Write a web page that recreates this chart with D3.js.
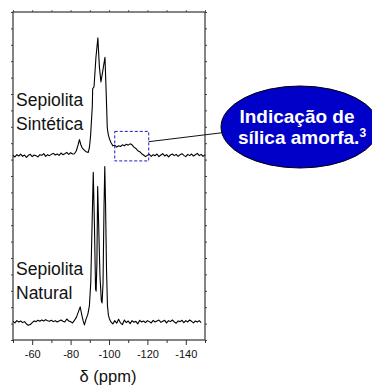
<!DOCTYPE html>
<html>
<head>
<meta charset="utf-8">
<script src="https://cdn.jsdelivr.net/npm/d3@7"></script>
<style>
body{margin:0;background:#fff;}
text{font-family:"Liberation Sans",Arial,sans-serif;}
</style>
</head>
<body>
<div id="chart"></div>
<script>
// chemical shift (ppm) and intensity (a.u.)
var ppmNatural = [-50,-51,-52,-53,-54,-55,-56,-57,-58,-59,-60,-61,-62,-63,-64,-65,-66,-67,-68,-69,-70,-71,-72,-73,-74,-75,-76,-77,-78,-79,-80,-81,-82,-83,-84,-85,-85.8,-86.5,-87.2,-88,-89,-89.8,-90.5,-91.2,-91.8,-92.4,-93,-93.3,-93.7,-94.1,-94.6,-95.3,-96,-96.4,-96.9,-97.4,-97.8,-98.2,-98.7,-99.2,-99.7,-100.2,-101,-102,-103,-104,-105,-106,-107,-108,-109,-110,-111,-112,-113,-114,-115,-116,-117,-118,-119,-120,-121,-122,-123,-124,-125,-126,-127,-128,-129,-130,-131,-132,-133,-134,-135,-136,-137,-138,-139,-140,-141,-142,-143,-144,-145,-146,-147,-148,-149,-150]
var natural = [0.2,-0.3,0.4,0.0,0.3,-0.2,0.1,-0.6,-1.0,-0.8,-0.2,0.3,0.1,0.5,0.2,0.6,0.3,0.7,0.4,0.2,0.5,0.1,0.4,0.0,0.3,0.6,0.2,0.0,0.9,0.3,0.1,-0.3,0.5,1.4,3.0,4.6,2.2,0.4,-0.9,0.8,2.4,5.0,12,30,45.6,30,10,9.4,18,41.3,30,14,6.5,5.8,12,35,47.4,36,16,5,2.0,1.0,0.0,-0.6,0.4,-0.4,0.8,-0.3,-0.8,0.6,-0.2,0.3,-0.5,0.4,-0.1,0.2,-0.6,0.5,0.0,0.3,-0.2,0.4,0.1,-0.3,0.5,0.0,0.3,0.6,-0.1,0.2,0.5,-0.3,0.4,0.1,0.6,0.0,-0.4,0.3,0.1,0.5,-0.2,0.4,0.0,0.6,0.2,-0.3,0.3,0.0,0.4,-0.2]

var ppmSintetica = [-50,-51,-52,-53,-54,-55,-56,-57,-58,-59,-60,-61,-62,-63,-64,-65,-66,-67,-68,-69,-70,-71,-72,-73,-74,-75,-76,-77,-78,-79,-80,-81,-82,-83,-84,-84.6,-85.3,-86,-87,-88,-89.2,-89.8,-90.4,-91,-91.3,-91.5,-92.2,-93.2,-94.2,-95,-95.8,-96.8,-97.9,-98.6,-99.1,-99.6,-100.2,-101,-102,-103,-104,-105,-106,-107,-108,-109,-110,-111,-112,-113,-114,-115,-116,-117,-118,-119,-120,-121,-122,-123,-124,-125,-126,-127,-128,-129,-130,-131,-132,-133,-134,-135,-136,-137,-138,-139,-140,-141,-142,-143,-144,-145,-146,-147,-148,-149,-150]
var sintetica = [0.1,-0.4,0.3,-0.1,0.5,-0.2,0.2,-0.5,0.1,0.4,-0.3,0.2,0.0,-0.4,0.3,0.1,0.6,-0.2,0.3,0.0,0.4,0.7,0.2,0.5,0.1,0.8,0.3,0.6,1.0,0.4,0.9,0.5,0.6,1.5,3.5,4.9,3.4,2.4,1.8,1.2,1.0,2.5,6,12,15,20.4,21,30,35.9,27,22.5,26,30,18,8.5,6.5,5.2,4.0,3.0,3.2,2.6,3.0,2.8,3.3,3.0,3.5,3.2,3.6,3.3,2.6,2.2,1.5,1.2,0.6,0.2,-0.3,0.1,0.4,-0.2,0.3,0.0,0.5,-0.3,0.2,0.6,-0.1,0.3,-0.4,0.2,0.5,0.0,0.4,-0.2,0.3,0.6,0.1,-0.3,0.4,0.0,0.5,-0.1,0.3,0.7,0.0,0.4,-0.2,0.3,0.1,0.5,-0.2]

var offsetNatural = 5.5
var offsetSintetica = 56.2

var xTicks = [-60,-80,-100,-120,-140]
var xMinorTicks = [-50,-70,-90,-110,-130,-150]
var yTicks = d3.range(0,101,5)

// dashed box marking the amorphous silica region
var boxPpm = [-103,-120.7]
var boxInt = [54.6,63.6]

var svg = d3.select("#chart").append("svg")
	.attr("width",372)
	.attr("height",389)

var x = d3.scaleLinear().domain([-50,-150]).range([13,205])
var y = d3.scaleLinear().domain([0,100]).range([340,12])

// axes (ticks outward, no y labels)
svg.append("g")
	.attr("transform","translate(0,340)")
	.call(d3.axisBottom(x).tickValues(xTicks).tickSize(5).tickSizeOuter(0).tickFormat(function(d){ return String(d) }))
	.call(function(g){
		g.select(".domain").remove()
		g.selectAll("line").attr("stroke","#333")
		g.selectAll("text").attr("font-size",11).attr("font-family","Liberation Sans, Arial, sans-serif").attr("fill","#111").attr("dy","0.95em")
	})
svg.append("g")
	.attr("transform","translate(0,340)")
	.call(d3.axisBottom(x).tickValues(xMinorTicks).tickSize(3).tickSizeOuter(0).tickFormat(""))
	.call(function(g){ g.select(".domain").remove(); g.selectAll("line").attr("stroke","#333") })
svg.append("g")
	.attr("transform","translate(0,12)")
	.call(d3.axisTop(x).tickValues(xTicks.concat(xMinorTicks)).tickSize(2).tickSizeOuter(0).tickFormat(""))
	.call(function(g){ g.select(".domain").remove(); g.selectAll("line").attr("stroke","#666") })
svg.append("g")
	.attr("transform","translate(13,0)")
	.call(d3.axisLeft(y).tickValues(yTicks).tickSize(2).tickSizeOuter(0).tickFormat(""))
	.call(function(g){ g.select(".domain").remove(); g.selectAll("line").attr("stroke","#444") })
svg.append("g")
	.attr("transform","translate(205,0)")
	.call(d3.axisRight(y).tickValues(yTicks).tickSize(2).tickSizeOuter(0).tickFormat(""))
	.call(function(g){ g.select(".domain").remove(); g.selectAll("line").attr("stroke","#444") })

// frame
svg.append("rect")
	.attr("x",x(-50)).attr("y",y(100))
	.attr("width",x(-150)-x(-50)).attr("height",y(0)-y(100))
	.attr("fill","none")
	.attr("stroke","#333")
	.attr("stroke-width",1.2)

function drawSpectrum(ppm,vals,off){
	var line = d3.line()
		.x(function(d,i){ return x(ppm[i]) })
		.y(function(d){ return y(d+off) })
	svg.append("path")
		.datum(vals)
		.attr("d",line)
		.attr("fill","none")
		.attr("stroke","#000")
		.attr("stroke-width",1.1)
		.attr("stroke-linejoin","round")
}
drawSpectrum(ppmNatural,natural,offsetNatural)
drawSpectrum(ppmSintetica,sintetica,offsetSintetica)

// labels
var labels = [["Sepiolita",16,106],["Sintética",16,129.5],["Sepiolita",16,275],["Natural",16,299]]
svg.selectAll(".lab").data(labels).enter().append("text")
	.attr("class","lab")
	.attr("x",function(d){ return d[1] })
	.attr("y",function(d){ return d[2] })
	.attr("font-size",17.5)
	.attr("fill","#111")
	.text(function(d){ return d[0] })

svg.append("text")
	.attr("x",108).attr("y",382)
	.attr("text-anchor","middle")
	.attr("font-size",16.5)
	.attr("fill","#111")
	.text("δ (ppm)")

// callout
svg.append("rect")
	.attr("x",x(boxPpm[0])).attr("y",y(boxInt[1]))
	.attr("width",x(boxPpm[1])-x(boxPpm[0]))
	.attr("height",y(boxInt[0])-y(boxInt[1]))
	.attr("fill","none")
	.attr("stroke","#1a1acc")
	.attr("stroke-width",1)
	.attr("stroke-dasharray","3,2")

svg.append("line")
	.attr("x1",x(boxPpm[1])).attr("y1",141.7)
	.attr("x2",228).attr("y2",132)
	.attr("stroke","#111")
	.attr("stroke-width",1)

svg.append("ellipse")
	.attr("cx",300).attr("cy",127)
	.attr("rx",79).attr("ry",41)
	.attr("fill","#0000c8")
	.attr("stroke","#000")
	.attr("stroke-width",1)

var t1 = svg.append("text")
	.attr("x",297).attr("y",123)
	.attr("text-anchor","middle")
	.attr("font-size",19)
	.attr("font-weight","bold")
	.attr("fill","#fff")
	.text("Indicação de")
var t2 = svg.append("text")
	.attr("x",302).attr("y",143.5)
	.attr("text-anchor","middle")
	.attr("font-size",19)
	.attr("font-weight","bold")
	.attr("fill","#fff")
t2.append("tspan").text("sílica amorfa.")
t2.append("tspan").attr("font-size",12).attr("dy",-7).text("3")
</script>
</body>
</html>
